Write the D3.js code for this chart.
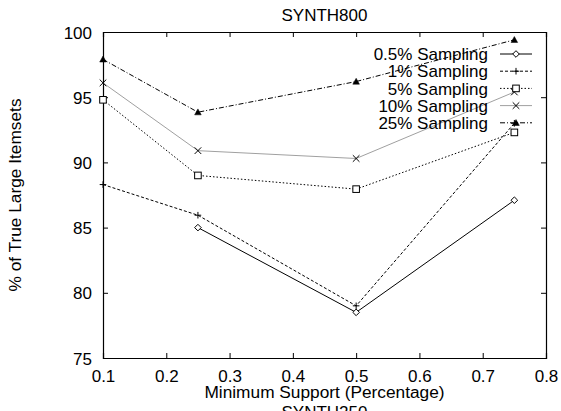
<!DOCTYPE html>
<html><head><meta charset="utf-8">
<script src="https://cdn.jsdelivr.net/npm/d3@7"></script>
<style>body{margin:0;background:#fff}svg{display:block}text{font-family:"Liberation Sans",Arial,sans-serif;fill:#000}</style>
</head><body>
<script>
const xValues = [0.1, 0.25, 0.5, 0.75];
const seriesNames = ["0.5% Sampling", "1% Sampling", "5% Sampling", "10% Sampling", "25% Sampling"];
const s05 = [null, 85.0, 78.5, 87.1];
const s1 = [88.3, 85.95, 79.0, 93.0];
const s5 = [94.8, 89.0, 87.95, 92.3];
const s10 = [96.1, 90.9, 90.3, 95.4];
const s25 = [97.9, 93.85, 96.2, 99.4];
const xTicks = [0.1, 0.2, 0.3, 0.4, 0.5, 0.6, 0.7, 0.8];
const yTicks = [75, 80, 85, 90, 95, 100];

const W = 561, H = 411;
const m = {l:103, r:15, t:32, b:53};
const svg = d3.select("body").append("svg").attr("width", W).attr("height", H);
const x = d3.scaleLinear().domain([0.1, 0.8]).range([m.l, W - m.r]);
const y = d3.scaleLinear().domain([75, 100]).range([H - m.b, m.t]);

const styles = [
  {color:"#000", dash:null, width:1, marker:"diamond"},
  {color:"#000", dash:"3,2", width:1, marker:"plus"},
  {color:"#000", dash:"1.5,2", width:1, marker:"square"},
  {color:"#a0a0a0", dash:null, width:1, marker:"cross"},
  {color:"#000", dash:"5,2,1,2", width:1, marker:"triangle"}
];
const allSeries = [s05, s1, s5, s10, s25];

const fs = 17;
// axes
const g = svg.append("g");
const axL = g.append("g").attr("transform", `translate(${m.l},0)`).call(d3.axisLeft(y).tickValues(yTicks).tickSize(-5).tickPadding(11).tickFormat(d3.format("d")));
const axR = g.append("g").attr("transform", `translate(${W-m.r},0)`).call(d3.axisRight(y).tickValues(yTicks).tickSize(-5).tickFormat(""));
const axB = g.append("g").attr("transform", `translate(0,${H-m.b})`).call(d3.axisBottom(x).tickValues(xTicks).tickSize(-5).tickPadding(7).tickFormat(d3.format(".1f")));
const axT = g.append("g").attr("transform", `translate(0,${m.t})`).call(d3.axisTop(x).tickValues(xTicks).tickSize(-5).tickFormat(""));
g.selectAll(".domain").attr("stroke","#000").attr("stroke-width",1.2);
g.selectAll(".tick line").attr("stroke","#000");
g.selectAll(".tick text").attr("font-size", fs).attr("font-family", '"Liberation Sans",Arial,sans-serif').attr("fill","#000");
axB.selectAll(".tick text").attr("y", 23.5).attr("dy", null);
axL.selectAll(".tick text").attr("dy", "0.36em");

function marker(sel, type, cx, cy, color) {
  const s = 3.3;
  if (type === "diamond") sel.append("path").attr("d", `M${cx},${cy-s}L${cx+s},${cy}L${cx},${cy+s}L${cx-s},${cy}Z`).attr("fill","#fff").attr("stroke",color);
  else if (type === "plus") sel.append("path").attr("d", `M${cx-s},${cy}H${cx+s}M${cx},${cy-s}V${cy+s}`).attr("stroke",color);
  else if (type === "square") sel.append("rect").attr("x",cx-s).attr("y",cy-s).attr("width",2*s).attr("height",2*s).attr("fill","#fff").attr("stroke",color);
  else if (type === "cross") sel.append("path").attr("d", `M${cx-s},${cy-s}L${cx+s},${cy+s}M${cx-s},${cy+s}L${cx+s},${cy-s}`).attr("stroke","#000");
  else if (type === "triangle") sel.append("path").attr("d", `M${cx},${cy-s}L${cx+s},${cy+s*0.8}L${cx-s},${cy+s*0.8}Z`).attr("fill","#000").attr("stroke","#000").attr("stroke-width",0.5);
}

const line = d3.line().defined(d => d[1] != null).x(d => x(d[0])).y(d => y(d[1]));
allSeries.forEach((vals, i) => {
  const st = styles[i];
  const pts = xValues.map((xv, j) => [xv, vals[j]]);
  svg.append("path").datum(pts).attr("d", line).attr("fill","none").attr("stroke", st.color).attr("stroke-width", st.width).attr("stroke-dasharray", st.dash);
  const mg = svg.append("g");
  pts.filter(p => p[1] != null).forEach(p => marker(mg, st.marker, x(p[0]), y(p[1]), "#000"));
});

// legend
const legY0 = 54, legDy = 17.2, lx1 = 500, lx2 = 532;
seriesNames.forEach((name, i) => {
  const st = styles[i];
  const yy = legY0 + i * legDy;
  svg.append("text").attr("x", 488).attr("y", yy).attr("dy","0.36em").attr("text-anchor","end").attr("font-size", fs).text(name);
  svg.append("line").attr("x1", lx1).attr("x2", lx2).attr("y1", yy).attr("y2", yy).attr("stroke", st.color).attr("stroke-width", st.width).attr("stroke-dasharray", st.dash);
  marker(svg, st.marker, (lx1+lx2)/2, yy, "#000");
});

// titles
const cx = (m.l + W - m.r)/2;
svg.append("text").attr("x", cx).attr("y", 21).attr("text-anchor","middle").attr("font-size", fs).text("SYNTH800");
svg.append("text").attr("x", cx).attr("y", 398).attr("text-anchor","middle").attr("font-size", 17.3).text("Minimum Support (Percentage)");
svg.append("text").attr("x", cx).attr("y", 418).attr("text-anchor","middle").attr("font-size", fs).text("SYNTH250");
svg.append("text").attr("transform", `translate(21,${(m.t + H - m.b)/2}) rotate(-90)`).attr("text-anchor","middle").attr("font-size", 17.3).text("% of True Large Itemsets");
</script>
</body></html>
